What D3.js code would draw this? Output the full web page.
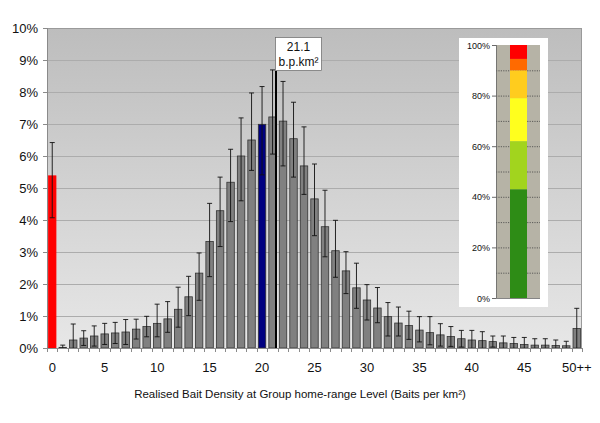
<!DOCTYPE html>
<html>
<head>
<meta charset="utf-8">
<script src="https://cdn.jsdelivr.net/npm/d3@7/dist/d3.min.js"></script>
<style>
  body { margin: 0; background: #fff; }
  svg { display: block; font-family: "Liberation Sans", Arial, Helvetica, sans-serif; }
</style>
</head>
<body>
<svg id="chart" width="600" height="423"></svg>
<script>
// ---- data ----
const categories = d3.range(0, 51);
const tickLabels = ["0", "5", "10", "15", "20", "25", "30", "35", "40", "45", "50++"];
const tickCats = [0, 5, 10, 15, 20, 25, 30, 35, 40, 45, 50];
const values = [5.38, 0.02, 0.25, 0.31, 0.375, 0.44, 0.47, 0.50, 0.59, 0.67,
  0.77, 0.91, 1.21, 1.60, 2.34, 3.33, 4.29, 5.18, 6.00, 6.50,
  6.99, 7.22, 7.09, 6.54, 5.69, 4.66, 3.79, 3.04, 2.41, 1.88,
  1.50, 1.25, 0.98, 0.78, 0.70, 0.56, 0.48, 0.41, 0.36, 0.29,
  0.25, 0.23, 0.20, 0.16, 0.14, 0.11, 0.09, 0.09, 0.08, 0.07, 0.61];
const upper = [6.42, 0.09, 0.75, 0.54, 0.69, 0.77, 0.80, 0.89, 0.90, 0.99,
  1.37, 1.45, 1.90, 2.24, 2.97, 4.52, 5.34, 6.21, 7.19, 7.97,
  8.17, 8.69, 8.33, 7.68, 6.91, 5.75, 4.93, 3.99, 3.01, 2.65,
  1.98, 1.89, 1.42, 1.28, 1.15, 0.98, 0.98, 0.76, 0.67, 0.55,
  0.55, 0.51, 0.375, 0.375, 0.33, 0.33, 0.29, 0.29, 0.25, 0.21, 1.24];
const lower = [4.07, 0, 0, 0.08, 0.06, 0.11, 0.14, 0.11, 0.28, 0.35,
  0.35, 0.49, 0.65, 1.01, 1.49, 2.23, 3.17, 3.95, 4.60, 5.55,
  5.41, 6.06, 5.69, 5.34, 4.80, 3.51, 2.85, 2.21, 1.70, 1.24,
  0.875, 0.79, 0.375, 0.375, 0.27, 0.19, 0.10, 0.06, 0.05, 0.03,
  0, 0, 0.03, 0, 0, 0, 0, 0, 0, 0, 0];
const yTicks = d3.range(0, 11);
const markerValue = 21.1;
const markerLabel = ["21.1", "b.p.km²"];
const xTitle = "Realised Bait Density at Group home-range Level (Baits per km²)";
// inset stacked bar (cumulative %)
const insetSegments = [
  { from: 0, to: 43, color: "#2e8c16" },
  { from: 43, to: 62, color: "#a2d41e" },
  { from: 62, to: 79, color: "#ffff1e" },
  { from: 79, to: 90, color: "#ffcc1e" },
  { from: 90, to: 94.5, color: "#ff6a00" },
  { from: 94.5, to: 100, color: "#ff0000" }
];
const insetTicks = [0, 20, 40, 60, 80, 100];
const insetGrid = d3.range(10, 100, 10);

// ---- layout ----
const svg = d3.select("#chart");
const L = 47, R = 582, T = 28, B = 348;

const x = d3.scaleBand().domain(categories).range([L, R]).paddingInner(0.29).paddingOuter(0.145);
const step = x.step();
const xLin = d3.scaleLinear().domain([-0.5, 50.5]).range([L, R]);
const y = d3.scaleLinear().domain([0, 10]).range([B, T]);

// background gradient
const defs = svg.append("defs");
const grad = defs.append("linearGradient").attr("id", "bg").attr("x1", 0).attr("y1", 0).attr("x2", 0).attr("y2", 1);
grad.append("stop").attr("offset", "0%").attr("stop-color", "#bdbdbd");
grad.append("stop").attr("offset", "100%").attr("stop-color", "#e7e7e7");

svg.append("rect").attr("x", L).attr("y", T).attr("width", R - L).attr("height", B - T).attr("fill", "url(#bg)");

// gridlines
svg.append("g").selectAll("line").data(yTicks.slice(1)).join("line")
  .attr("x1", L).attr("x2", R)
  .attr("y1", d => y(d) + 0.5).attr("y2", d => y(d) + 0.5)
  .attr("stroke", "#acacac").attr("stroke-width", 1);

// plot border
svg.append("rect").attr("x", L + 0.5).attr("y", T + 0.5).attr("width", R - L - 1).attr("height", B - T)
  .attr("fill", "none").attr("stroke", "#9a9a9a").attr("stroke-width", 1);

// bars
svg.append("g").selectAll("rect").data(categories).join("rect")
  .attr("x", d => x(d))
  .attr("width", x.bandwidth())
  .attr("y", d => y(values[d]))
  .attr("height", d => B - y(values[d]))
  .attr("fill", d => d === 0 ? "#ff0000" : d === 20 ? "#000080" : "#808080")
  .attr("stroke", d => d === 0 ? "#ff0000" : "#333333")
  .attr("stroke-width", 0.8);

// error bars
const eb = svg.append("g").attr("stroke", "#111").attr("stroke-width", 0.9);
const cx = d => x(d) + x.bandwidth() / 2;
eb.selectAll("line.v").data(categories).join("line").attr("class", "v")
  .attr("x1", cx).attr("x2", cx)
  .attr("y1", d => y(upper[d])).attr("y2", d => y(lower[d]));
eb.selectAll("line.u").data(categories).join("line").attr("class", "u")
  .attr("x1", d => cx(d) - 2.5).attr("x2", d => cx(d) + 2.5)
  .attr("y1", d => y(upper[d])).attr("y2", d => y(upper[d]));
eb.selectAll("line.l").data(categories.filter(d => lower[d] > 0)).join("line").attr("class", "l")
  .attr("x1", d => cx(d) - 2.5).attr("x2", d => cx(d) + 2.5)
  .attr("y1", d => y(lower[d])).attr("y2", d => y(lower[d]));

// axes
svg.append("line").attr("x1", L + 0.5).attr("x2", L + 0.5).attr("y1", T).attr("y2", B).attr("stroke", "#8a8a8a");
svg.append("line").attr("x1", L).attr("x2", R).attr("y1", B + 0.5).attr("y2", B + 0.5).attr("stroke", "#8a8a8a");
svg.append("g").selectAll("line").data(yTicks).join("line")
  .attr("x1", L - 4).attr("x2", L).attr("y1", d => y(d) + 0.5).attr("y2", d => y(d) + 0.5)
  .attr("stroke", "#8a8a8a");
svg.append("g").selectAll("text").data(yTicks).join("text")
  .attr("x", L - 9).attr("y", d => y(d) + 5)
  .attr("text-anchor", "end").attr("font-size", 13).attr("fill", "#111")
  .text(d => d + "%");
svg.append("g").selectAll("line").data(d3.range(0, 52)).join("line")
  .attr("x1", d => Math.round(L + d * step) + 0.5).attr("x2", d => Math.round(L + d * step) + 0.5)
  .attr("y1", B).attr("y2", B + 4).attr("stroke", "#8a8a8a");
svg.append("g").selectAll("text").data(tickCats).join("text")
  .attr("x", d => cx(d)).attr("y", 372)
  .attr("text-anchor", "middle").attr("font-size", 13).attr("fill", "#111")
  .text((d, i) => tickLabels[i]);
svg.append("text").attr("x", 300).attr("y", 398).attr("text-anchor", "middle")
  .attr("font-size", 11.5).attr("fill", "#111").text(xTitle);

// marker line + label
const mx = xLin(markerValue) + step * 0.23;
svg.append("line").attr("x1", mx).attr("x2", mx).attr("y1", 71).attr("y2", B)
  .attr("stroke", "#000").attr("stroke-width", 2);
svg.append("rect").attr("x", mx - 0.5).attr("y", 37.5).attr("width", 46).attr("height", 33)
  .attr("fill", "#fff").attr("stroke", "#666").attr("stroke-width", 0.7);
svg.append("g").selectAll("text").data(markerLabel).join("text")
  .attr("x", mx + 22.5).attr("y", (d, i) => 51 + i * 15)
  .attr("text-anchor", "middle").attr("font-size", 12).attr("fill", "#111")
  .text(d => d);

// inset
const iL = 496, iR = 540, iT = 45, iB = 298;
const iy = d3.scaleLinear().domain([0, 100]).range([iB, iT]);
svg.append("rect").attr("x", 459).attr("y", 38).attr("width", 89).attr("height", 269).attr("fill", "#fff");
svg.append("rect").attr("x", iL).attr("y", iT).attr("width", iR - iL).attr("height", iB - iT).attr("fill", "#b6b3a6");
svg.append("g").selectAll("line").data(insetGrid).join("line")
  .attr("x1", iL).attr("x2", iR).attr("y1", d => iy(d) + 0.5).attr("y2", d => iy(d) + 0.5)
  .attr("stroke", "#444").attr("stroke-width", 0.8).attr("stroke-dasharray", "1.2,1.2");
svg.append("g").selectAll("rect").data(insetSegments).join("rect")
  .attr("x", 510).attr("width", 17)
  .attr("y", d => iy(d.to)).attr("height", d => iy(d.from) - iy(d.to))
  .attr("fill", d => d.color);
svg.append("line").attr("x1", iL + 0.5).attr("x2", iL + 0.5).attr("y1", iT).attr("y2", iB).attr("stroke", "#666").attr("stroke-width", 0.8);
svg.append("line").attr("x1", iL).attr("x2", iR).attr("y1", iB + 0.5).attr("y2", iB + 0.5).attr("stroke", "#666").attr("stroke-width", 0.8);
svg.append("g").selectAll("line").data(insetTicks).join("line")
  .attr("x1", iL - 4).attr("x2", iL).attr("y1", d => iy(d) + 0.5).attr("y2", d => iy(d) + 0.5)
  .attr("stroke", "#444").attr("stroke-width", 0.8);
svg.append("g").selectAll("text").data(insetTicks).join("text")
  .attr("x", iL - 6).attr("y", d => iy(d) + 3.5)
  .attr("text-anchor", "end").attr("font-size", 9).attr("fill", "#111")
  .text(d => d + "%");
</script>
</body>
</html>
